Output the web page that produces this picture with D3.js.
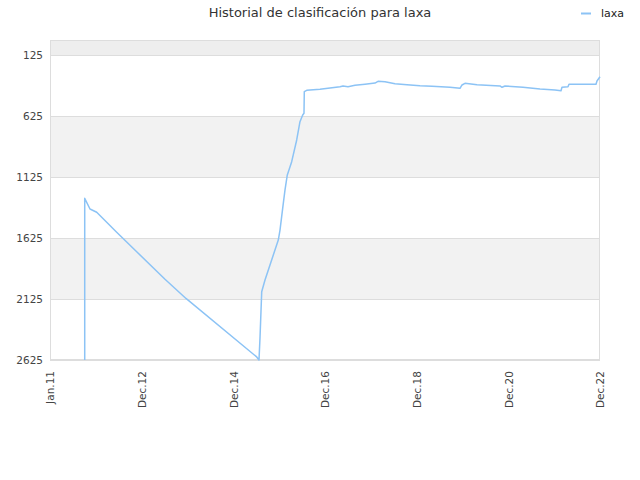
<!DOCTYPE html>
<html>
<head>
<meta charset="utf-8">
<script src="https://cdn.jsdelivr.net/npm/d3@7"></script>
<style>
  html, body { margin: 0; padding: 0; background: #fff; }
  svg { display: block; font-family: "DejaVu Sans", sans-serif; }
</style>
</head>
<body>
<svg id="chart" width="640" height="480"></svg>
<script>
// ---- data ----
const title = "Historial de clasificación para laxa";
const seriesName = "laxa";
const tickLabels = ["Jan.11", "Dec.12", "Dec.14", "Dec.16", "Dec.18", "Dec.20", "Dec.22"];
const tickIndex = [0, 24, 48, 72, 96, 120, 144];
const yTicks = [125, 625, 1125, 1625, 2125, 2625];
// position along the month axis (0 = Jan.11, 144 = Dec.22)
const monthIdx = [9.09, 9.09, 10.47, 12.23, 17.46, 22.70, 30.11, 35.6, 54.12, 54.72, 54.98, 55.43,
  56.29, 59.77, 60.22, 61.08, 61.53, 62.13, 63.28, 64.59, 65.45, 66.16, 66.50, 66.58, 67.21,
  70.69, 73.31, 75.93, 76.71, 78.02, 79.86, 82.47, 85.09, 85.88, 87.71, 90.33, 93.47, 96.87,
  100.02, 104.73, 107.35, 107.87, 108.65, 111.80, 117.82, 118.34, 119.13, 123.84, 128.29,
  132.22, 133.79, 134.05, 135.62, 135.88, 142.95, 143.21, 144];
const rank = [2625, 1299, 1386, 1413, 1577, 1737, 1963, 2120, 2600, 2625, 2445, 2065,
  1969, 1641, 1559, 1340, 1230, 1107, 998, 820, 670, 615, 601, 424, 413,
  404, 394, 383, 377, 383, 372, 363, 353, 339, 342, 358, 367, 375,
  380, 388, 396, 369, 355, 367, 377, 388, 377, 388, 402,
  410, 416, 388, 383, 363, 363, 336, 301];

// ---- layout ----
const svg = d3.select("#chart");
const mL = 50, mR = 600, mT = 40, mB = 360;
const x = d3.scaleLinear().domain([0, 144]).range([mL, mR]);
const y = d3.scaleLinear().domain([0, 2625]).range([mT, mB]);
const lineColor = "#8cc3f5";

// bands
const bandEdges = [0].concat(yTicks);
const bands = [];
for (let i = 0; i < bandEdges.length - 1; i++) bands.push([bandEdges[i], bandEdges[i + 1], i]);
svg.append("g").selectAll("rect").data(bands).join("rect")
  .attr("x", mL).attr("width", mR - mL)
  .attr("y", d => y(d[0])).attr("height", d => y(d[1]) - y(d[0]))
  .attr("fill", d => d[2] === 0 ? "#eeeeee" : (d[2] % 2 === 0 ? "#f2f2f2" : "#ffffff"));

// grid lines
svg.append("g").selectAll("line").data(yTicks).join("line")
  .attr("x1", mL).attr("x2", mR)
  .attr("y1", d => Math.round(y(d)) + 0.5).attr("y2", d => Math.round(y(d)) + 0.5)
  .attr("stroke", "#dddddd").attr("stroke-width", 1);

// plot frame
svg.append("rect")
  .attr("x", mL + 0.5).attr("y", mT + 0.5)
  .attr("width", mR - mL - 1).attr("height", mB - mT - 1)
  .attr("fill", "none").attr("stroke", "#dddddd");

// y axis labels
const yAxis = d3.axisLeft(y).tickValues(yTicks).tickSize(0).tickPadding(6).tickFormat(d3.format("d"));
const gy = svg.append("g").attr("transform", `translate(${mL - 1},0)`).call(yAxis);
gy.select(".domain").remove();
gy.selectAll("text").attr("font-size", "10.5px").attr("fill", "#444").attr("font-family", "DejaVu Sans, sans-serif");

// x axis labels
const xAxis = d3.axisBottom(x).tickValues(tickIndex).tickSize(0).tickPadding(0)
  .tickFormat((d, i) => tickLabels[i]);
const gx = svg.append("g").attr("transform", `translate(0,${mB})`).call(xAxis);
gx.select(".domain").remove();
gx.selectAll("text")
  .attr("font-size", "10.5px").attr("fill", "#444").attr("font-family", "DejaVu Sans, sans-serif")
  .attr("text-anchor", "end")
  .attr("dy", "0.35em")
  .attr("transform", "translate(0,11) rotate(-90)")
  .attr("x", 0).attr("y", 0);

// line
const pts = monthIdx.map((m, i) => [m, rank[i]]);
const line = d3.line().x(d => x(d[0])).y(d => y(d[1]));
svg.append("path").datum(pts)
  .attr("d", line)
  .attr("fill", "none")
  .attr("stroke", lineColor)
  .attr("stroke-width", 1.5)
  .attr("stroke-linejoin", "round");

// title
svg.append("text").attr("x", 320).attr("y", 17)
  .attr("text-anchor", "middle").attr("font-size", "13px").attr("fill", "#333")
  .text(title);

// legend
svg.append("line").attr("x1", 581).attr("x2", 591).attr("y1", 13.5).attr("y2", 13.5)
  .attr("stroke", lineColor).attr("stroke-width", 2);
svg.append("text").attr("x", 601).attr("y", 17)
  .attr("font-size", "11px").attr("fill", "#222").text(seriesName);
</script>
</body>
</html>
